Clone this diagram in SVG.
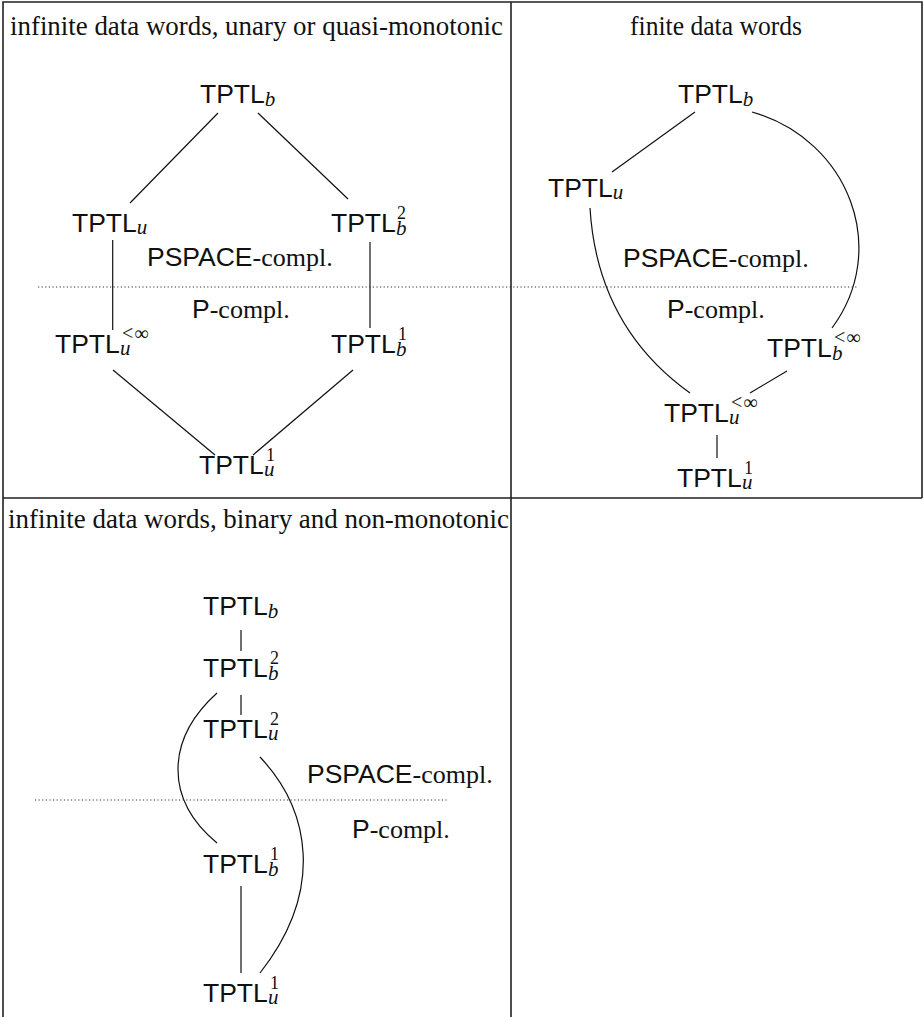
<svg xmlns="http://www.w3.org/2000/svg" width="923" height="1017" viewBox="0 0 923 1017">
<style>
.title{font-family:"Liberation Serif",serif;font-size:28px;fill:#111}
.n{font-family:"Liberation Sans",sans-serif;font-size:26.5px;fill:#111}
.s{font-family:"Liberation Serif",serif;font-style:italic;font-size:21px}
.p{font-family:"Liberation Serif",serif;font-size:18px}
.i{font-family:"Liberation Serif",serif;font-size:20px;letter-spacing:1px}
.c{font-family:"Liberation Serif",serif;font-size:26px}
.e{fill:none;stroke:#111;stroke-width:1.2}
.b{fill:none;stroke:#222;stroke-width:1.6}
.d{fill:none;stroke:#333;stroke-width:1.2;stroke-dasharray:1.2 2.4}
</style>
<rect width="923" height="1017" fill="#fff"/>
<g id="table">
<path class="b" d="M3,1017 V2 H922 V498 M3,498 H922 M511,2 V1017"/>
</g>
<g id="titles">
<text class="title" x="10" y="35" textLength="493" lengthAdjust="spacingAndGlyphs">infinite data words, unary or quasi-monotonic</text>
<text class="title" x="716" y="35" text-anchor="middle" textLength="172" lengthAdjust="spacingAndGlyphs">finite data words</text>
<text class="title" x="8" y="528" textLength="501" lengthAdjust="spacingAndGlyphs">infinite data words, binary and non-monotonic</text>
</g>
<g id="connectors">
<line class="e" x1="218" y1="113" x2="130" y2="203"/>
<line class="e" x1="258" y1="113" x2="348" y2="199"/>
<line class="e" x1="112.7" y1="240" x2="112.7" y2="330"/>
<line class="e" x1="370" y1="242" x2="370" y2="328"/>
<line class="e" x1="113" y1="370" x2="215" y2="455"/>
<line class="e" x1="353" y1="370" x2="253" y2="455"/>
<line class="e" x1="695" y1="112" x2="612" y2="172"/>
<path class="e" d="M590,208 C595,290 630,350 690,393"/>
<path class="e" d="M752,112 C850,140 890,250 832,328"/>
<line class="e" x1="787" y1="371" x2="750" y2="393"/>
<line class="e" x1="717" y1="435" x2="717" y2="458"/>
<line class="e" x1="241" y1="630" x2="241" y2="651"/>
<line class="e" x1="241" y1="695" x2="241" y2="715"/>
<path class="e" d="M217,693 C165,740 165,800 217,843"/>
<path class="e" d="M260,757 C310,810 325,890 260,973"/>
<line class="e" x1="241" y1="886" x2="241" y2="973"/>
<path class="d" d="M38,287 H858"/>
<path class="d" d="M35,800 H447"/>
</g>
<g id="p1-TPTLb"><text class="n" x="200" y="103">TPTL<tspan class="s" dy="3">b</tspan></text></g>
<g id="p1-TPTLu"><text class="n" x="72" y="232">TPTL<tspan class="s" dy="1.5">u</tspan></text></g>
<g id="p1-TPTLb2"><text class="n" x="331" y="232">TPTL<tspan class="p" x="397" dy="-13">2</tspan><tspan class="s" x="396" dy="16">b</tspan></text></g>
<g id="p1-TPTLuinf"><text class="n" x="55" y="353">TPTL<tspan class="i" x="122" dy="-13">&lt;∞</tspan><tspan class="s" x="120" dy="15">u</tspan></text></g>
<g id="p1-TPTLb1"><text class="n" x="331" y="353">TPTL<tspan class="p" x="398" dy="-13">1</tspan><tspan class="s" x="396" dy="16">b</tspan></text></g>
<g id="p1-TPTLu1"><text class="n" x="199" y="474">TPTL<tspan class="p" x="266" dy="-13">1</tspan><tspan class="s" x="264" dy="15">u</tspan></text></g>
<g id="p1-labels">
<text class="n" x="147" y="266">PSPACE<tspan class="c">-compl.</tspan></text>
<text class="n" x="192" y="318">P<tspan class="c">-compl.</tspan></text>
</g>
<g id="p2-TPTLb"><text class="n" x="678" y="103">TPTL<tspan class="s" dy="3">b</tspan></text></g>
<g id="p2-TPTLu"><text class="n" x="548" y="197">TPTL<tspan class="s" dy="1.5">u</tspan></text></g>
<g id="p2-TPTLbinf"><text class="n" x="767" y="357">TPTL<tspan class="i" x="834" dy="-13">&lt;∞</tspan><tspan class="s" x="832" dy="16">b</tspan></text></g>
<g id="p2-TPTLuinf"><text class="n" x="664" y="422">TPTL<tspan class="i" x="731" dy="-13">&lt;∞</tspan><tspan class="s" x="729" dy="15">u</tspan></text></g>
<g id="p2-TPTLu1"><text class="n" x="677" y="487">TPTL<tspan class="p" x="744" dy="-13">1</tspan><tspan class="s" x="742" dy="15">u</tspan></text></g>
<g id="p2-labels">
<text class="n" x="623" y="267">PSPACE<tspan class="c">-compl.</tspan></text>
<text class="n" x="667" y="318">P<tspan class="c">-compl.</tspan></text>
</g>
<g id="p3-TPTLb"><text class="n" x="203" y="615">TPTL<tspan class="s" dy="3">b</tspan></text></g>
<g id="p3-TPTLb2"><text class="n" x="203" y="677">TPTL<tspan class="p" x="270" dy="-13">2</tspan><tspan class="s" x="268" dy="16">b</tspan></text></g>
<g id="p3-TPTLu2"><text class="n" x="203" y="738">TPTL<tspan class="p" x="270" dy="-13">2</tspan><tspan class="s" x="268" dy="15">u</tspan></text></g>
<g id="p3-TPTLb1"><text class="n" x="203" y="873">TPTL<tspan class="p" x="270" dy="-13">1</tspan><tspan class="s" x="268" dy="16">b</tspan></text></g>
<g id="p3-TPTLu1"><text class="n" x="203" y="1002">TPTL<tspan class="p" x="270" dy="-13">1</tspan><tspan class="s" x="268" dy="15">u</tspan></text></g>
<g id="p3-labels">
<text class="n" x="307" y="783">PSPACE<tspan class="c">-compl.</tspan></text>
<text class="n" x="352" y="838">P<tspan class="c">-compl.</tspan></text>
</g>
</svg>
